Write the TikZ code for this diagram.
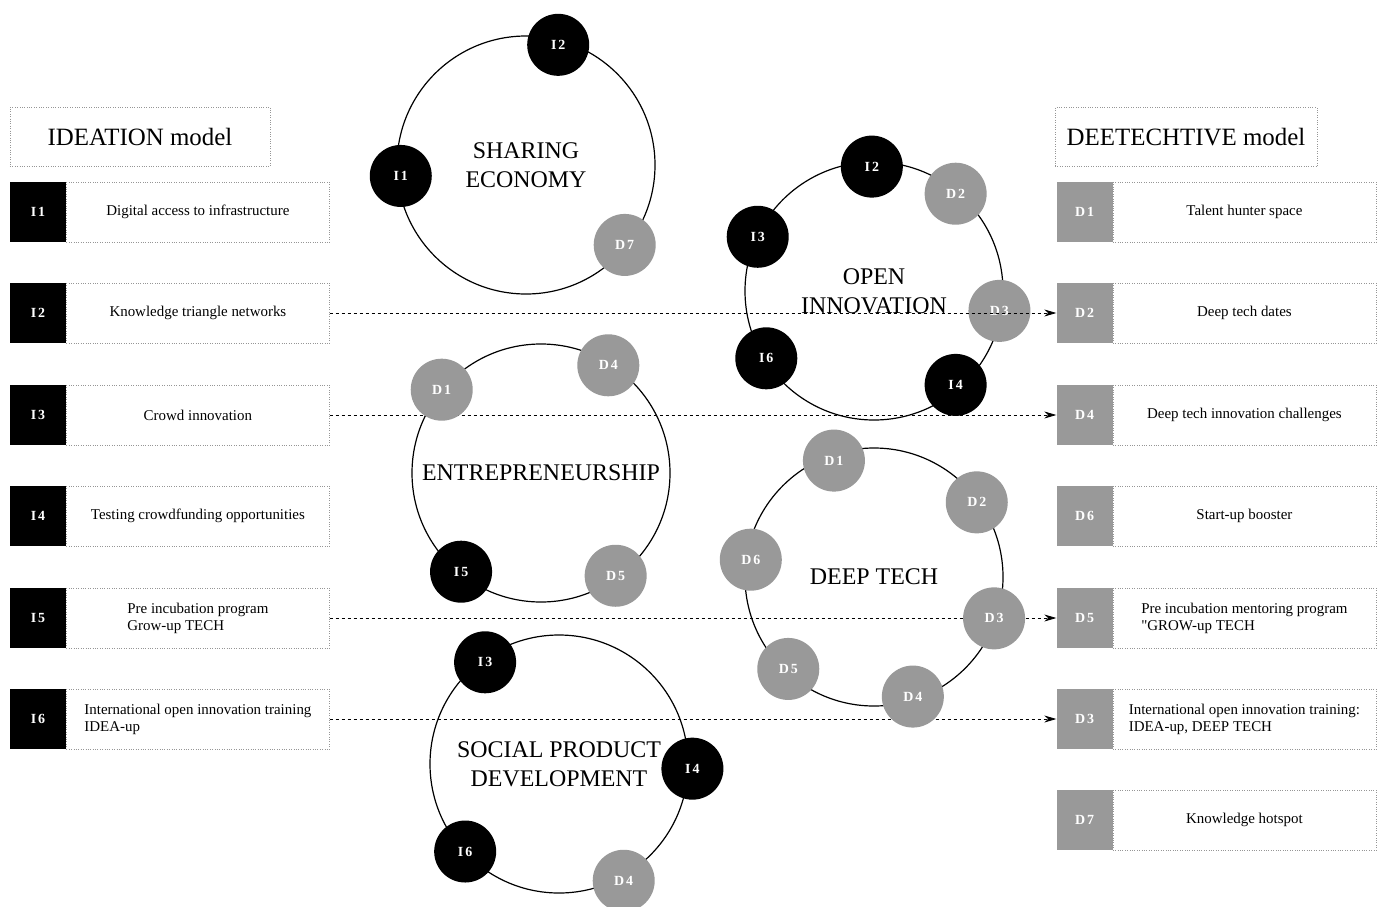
\documentclass[tikz,border=0pt]{standalone}
\usepackage{fontspec}
\setmainfont{Liberation Serif}
\usetikzlibrary{positioning,arrows.meta,calc}
\definecolor{keygray}{RGB}{153,153,153}
\definecolor{boxline}{RGB}{150,150,150}

\begin{document}
\begin{tikzpicture}[x=1bp,y=-1bp,
  title/.style={draw=boxline,dotted,minimum height=59bp,font=\fontsize{25}{29}\selectfont},
  ikey/.style={fill=black,text=white,minimum width=56bp,minimum height=60bp,inner sep=0pt,font=\fontsize{14}{16}\selectfont\bfseries\addfontfeature{LetterSpace=14}},
  dkey/.style={ikey,fill=keygray},
  itext/.style={draw=boxline,dotted,minimum width=263bp,minimum height=60bp,inner sep=2bp,align=left,font=\fontsize{15}{17}\selectfont},
  ring/.style={circle,draw=black,line width=1.2bp,minimum size=258bp,inner sep=0pt,align=center,font=\fontsize{24}{29}\selectfont},
  inode/.style={circle,fill=black,text=white,minimum size=62bp,inner sep=0pt,font=\fontsize{14}{16}\selectfont\bfseries\addfontfeature{LetterSpace=14}},
  dnode/.style={inode,fill=keygray},
  link/.style={dash pattern=on 3bp off 3bp,line width=0.8bp,-{Stealth[length=12bp,width=7bp]}}]
\useasboundingbox[fill=white] (0,0) rectangle (1385,906);

% IDEATION model
\node[title,minimum width=260bp] (ideation) at (140,136.5) {IDEATION model};
\node[ikey] (i1) at (38,212) {I1};
\node[itext,right=0pt of i1] (ti1) {Digital access to infrastructure};
\node[ikey] (i2) at (38,313) {I2};
\node[itext,right=0pt of i2] (ti2) {Knowledge triangle networks};
\node[ikey] (i3) at (38,415) {I3};
\node[itext,right=0pt of i3] (ti3) {Crowd innovation};
\node[ikey] (i4) at (38,516) {I4};
\node[itext,right=0pt of i4] (ti4) {Testing crowdfunding opportunities};
\node[ikey] (i5) at (38,618) {I5};
\node[itext,right=0pt of i5] (ti5) {Pre incubation program\\Grow-up TECH};
\node[ikey] (i6) at (38,719) {I6};
\node[itext,right=0pt of i6] (ti6) {International open innovation training\\IDEA-up};

% DEETECHTIVE model
\node[title,minimum width=262bp] (deetech) at (1186,137) {DEETECHTIVE model};
\node[dkey] (d1) at (1084.5,212) {D1};
\node[itext,right=0pt of d1] (td1) {Talent hunter space};
\node[dkey] (d2) at (1084.5,313) {D2};
\node[itext,right=0pt of d2] (td2) {Deep tech dates};
\node[dkey] (d4) at (1084.5,415) {D4};
\node[itext,right=0pt of d4] (td4) {Deep tech innovation challenges};
\node[dkey] (d6) at (1084.5,516) {D6};
\node[itext,right=0pt of d6] (td6) {Start-up booster};
\node[dkey] (d5) at (1084.5,618) {D5};
\node[itext,right=0pt of d5] (td5) {Pre incubation mentoring program\\\textquotedbl GROW-up TECH};
\node[dkey] (d3) at (1084.5,719) {D3};
\node[itext,right=0pt of d3] (td3) {International open innovation training:\\IDEA-up, DEEP TECH};
\node[dkey] (d7) at (1084.5,820) {D7};
\node[itext,right=0pt of d7] (td7) {Knowledge hotspot};

% rings
\node[ring] (share) at (526,165) {SHARING\\ECONOMY};
\node[ring] (open) at (874,291) {OPEN\\INNOVATION};
\node[ring] (entre) at (541,473) {ENTREPRENEURSHIP};
\node[ring] (deep) at (874,577) {DEEP TECH};
\node[ring] (social) at (559,764) {SOCIAL PRODUCT\\DEVELOPMENT};

% links
\draw[link] (ti3.east) -- (d4.west);
\draw[link] (ti5.east) -- (d5.west);
\draw[link] (ti6.east) -- (d3.west);

% members of each ring
\node[inode] (share-i2) at ($(share)!.96!(share.75)$) {I2};
\node[inode] (share-i1) at ($(share)!.97!(share.185)$) {I1};
\node[dnode] (share-d7) at ($(share)!.98!(share.-39)$) {D7};

\node[inode] (open-i2) at ($(open)!.96!(open.91)$) {I2};
\node[dnode] (open-d2) at ($(open)!.98!(open.50)$) {D2};
\node[inode] (open-i3) at ($(open)!.99!(open.155)$) {I3};
\node[dnode] (open-d3) at ($(open)!.98!(open.-9)$) {D3};
\node[inode] (open-i6) at ($(open)!.98!(open.212)$) {I6};
\node[inode] (open-i4) at ($(open)!.96!(open.-49)$) {I4};

\node[dnode] (entre-d1) at ($(entre)!1!(entre.140)$) {D1};
\node[dnode] (entre-d4) at ($(entre)!.98!(entre.58)$) {D4};
\node[inode] (entre-i5) at ($(entre)!.98!(entre.231)$) {I5};
\node[dnode] (entre-d5) at ($(entre)!.98!(entre.-54)$) {D5};

\node[dnode] (deep-d1) at ($(deep)!.95!(deep.109)$) {D1};
\node[dnode] (deep-d2) at ($(deep)!.98!(deep.36)$) {D2};
\node[dnode] (deep-d6) at ($(deep)!.96!(deep.172)$) {D6};
\node[dnode] (deep-d3) at ($(deep)!.98!(deep.-19)$) {D3};
\node[dnode] (deep-d5) at ($(deep)!.97!(deep.227)$) {D5};
\node[dnode] (deep-d4) at ($(deep)!.97!(deep.-72)$) {D4};

\node[inode] (social-i3) at ($(social)!.97!(social.126)$) {I3};
\node[inode] (social-i4) at ($(social)!1.03!(social.-2)$) {I4};
\node[inode] (social-i6) at ($(social)!.99!(social.223)$) {I6};
\node[dnode] (social-d4) at ($(social)!1.03!(social.-61)$) {D4};

\draw[link] (ti2.east) -- (d2.west);
\end{tikzpicture}
\end{document}
